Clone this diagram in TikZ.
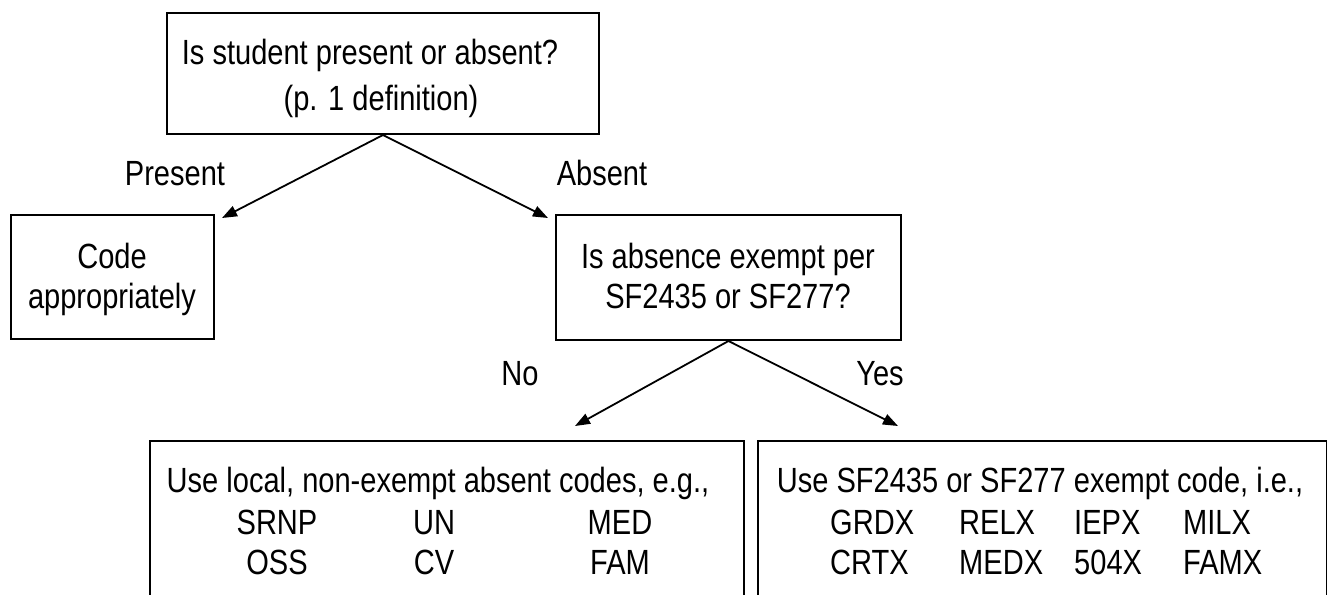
\documentclass[tikz,border=0pt]{standalone}
\usepackage{fontspec}
\setmainfont{Liberation Sans}[FakeStretch=0.83]
\usetikzlibrary{arrows.meta}

\begin{document}
\begin{tikzpicture}[x=1pt,y=-1pt,
  box/.style={draw, line width=2pt, rectangle, inner sep=0pt, anchor=north west},
  txt/.style={font=\fontsize{35}{45}\selectfont, inner sep=0pt, anchor=base},
  code/.style={font=\fontsize{35}{45}\selectfont, inner sep=0pt, anchor=base west},
  arr/.style={line width=1.8pt, -{Triangle[length=15pt,width=11pt]}}]
\useasboundingbox (0,0) rectangle (1327,594);
\clip (0,0) rectangle (1327,594);

% boxes
\node[box, minimum width=432pt, minimum height=121pt] (q1) at (166,12) {};
\node[box, minimum width=203pt, minimum height=124pt] (code) at (10,214) {};
\node[box, minimum width=345pt, minimum height=125pt] (q2) at (555,214) {};
\node[box, minimum width=594pt, minimum height=200pt] (local) at (149,440) {};
\node[box, minimum width=569pt, minimum height=200pt] (exempt) at (757,440) {};

% question texts
\node[txt] (q1a) at (370,65) {Is student present or absent?};
\node[txt] (q1b) at (381,110) {(p. 1 definition)};
\node[txt] (codea) at (112,268) {Code};
\node[txt] (codeb) at (112,308) {appropriately};
\node[txt] (q2a) at (728,268) {Is absence exempt per};
\node[txt] (q2b) at (728,308) {SF2435 or SF277?};

% branch labels
\node[txt] (lp) at (175,185) {Present};
\node[txt] (la) at (602,185) {Absent};
\node[txt] (ln) at (520,385) {No};
\node[txt] (ly) at (880,385) {Yes};

% arrow targets
\coordinate (tp) at (222,218);
\coordinate (ta) at (548,218);
\coordinate (tn) at (575,426);
\coordinate (ty) at (898,426);

\draw[arr] (q1.south) -- (tp);
\draw[arr] (q1.south) -- (ta);
\draw[arr] (q2.south) -- (tn);
\draw[arr] (q2.south) -- (ty);

% non-exempt codes
\node[txt] (lh) at (438,492) {Use local, non-exempt absent codes, e.g.,};
\node[txt] (c11) at (277,534) {SRNP};
\node[txt] (c12) at (434,534) {UN};
\node[txt] (c13) at (620,534) {MED};
\node[txt] (c21) at (277,574) {OSS};
\node[txt] (c22) at (434,574) {CV};
\node[txt] (c23) at (620,574) {FAM};

% exempt codes
\node[txt] (eh) at (1040,492) {Use SF2435 or SF277 exempt code, i.e.,};
\node[code] (e11) at (830,534) {GRDX};
\node[code] (e12) at (959,534) {RELX};
\node[code] (e13) at (1074,534) {IEPX};
\node[code] (e14) at (1183,534) {MILX};
\node[code] (e21) at (830,574) {CRTX};
\node[code] (e22) at (959,574) {MEDX};
\node[code] (e23) at (1074,574) {504X};
\node[code] (e24) at (1183,574) {FAMX};
\end{tikzpicture}
\end{document}
